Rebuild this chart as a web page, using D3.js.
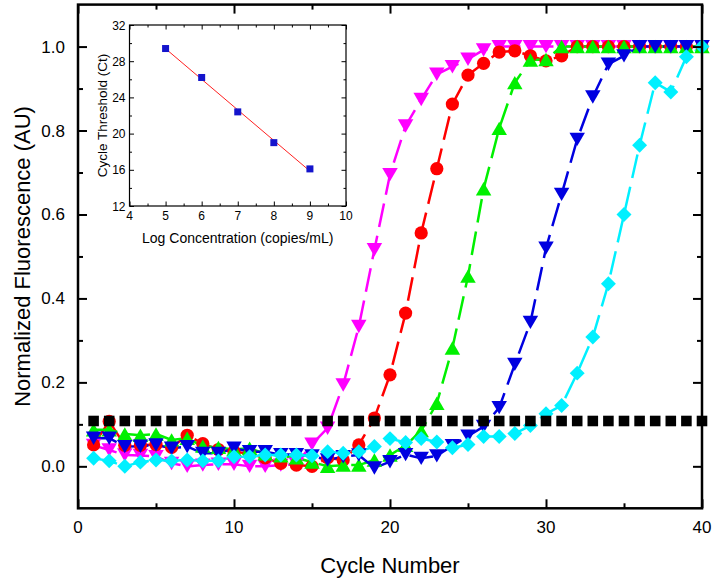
<!DOCTYPE html>
<html>
<head>
<meta charset="utf-8">
<script src="https://cdn.jsdelivr.net/npm/d3@7"></script>
<style>
  body { margin: 0; background: #fff; }
  svg { font-family: "Liberation Sans", Arial, sans-serif; }
</style>
</head>
<body>
<svg id="chart"></svg>
<script>
// cycle numbers 1..40
const cycles = [1,2,3,4,5,6,7,8,9,10,11,12,13,14,15,16,17,18,19,20,
  21,22,23,24,25,26,27,28,29,30,31,32,33,34,35,36,37,38,39,40]

const threshold = [0.108,0.108,0.108,0.108,0.108,0.108,0.108,0.108,0.108,0.108,
  0.108,0.108,0.108,0.108,0.108,0.108,0.108,0.108,0.108,0.108,
  0.108,0.108,0.108,0.108,0.108,0.108,0.108,0.108,0.108,0.108,
  0.108,0.108,0.108,0.108,0.108,0.108,0.108,0.108,0.108,0.108]

const magenta = [0.050,0.039,0.027,0.026,0.023,0.007,0.000,0.003,0.005,0.005,
  0.000,0.000,0.003,0.005,0.053,0.091,0.194,0.333,0.516,0.695,
  0.811,0.874,0.934,0.952,0.970,0.992,1.000,1.000,1.000,1.000,
  1.000,1.000,1.000,1.000,1.000,1.000,1.000,1.000,1.000,1.000]

const red = [0.051,0.107,0.050,0.050,0.052,0.045,0.074,0.054,0.040,0.035,
  0.030,0.020,0.007,0.003,0.000,0.020,0.015,0.051,0.115,0.218,
  0.365,0.556,0.709,0.863,0.932,0.960,0.987,0.990,0.978,0.966,
  0.978,1.000,1.000,1.000,1.000,1.000,1.000,1.000,1.000,1.000]

const green = [0.087,0.087,0.077,0.074,0.077,0.063,0.067,0.048,0.045,0.040,
  0.043,0.030,0.025,0.020,0.010,0.000,0.003,0.003,0.015,0.027,
  0.050,0.085,0.150,0.282,0.453,0.661,0.805,0.914,0.968,0.969,
  1.000,1.000,1.000,1.000,1.000,1.000,1.000,1.000,1.000,1.000]

const blue = [0.067,0.067,0.047,0.048,0.051,0.043,0.047,0.031,0.031,0.043,
  0.035,0.035,0.028,0.028,0.025,0.015,0.023,0.027,-0.004,0.011,
  0.028,0.019,0.025,0.049,0.072,0.095,0.140,0.243,0.343,0.520,
  0.648,0.779,0.880,0.958,0.978,1.000,1.000,1.000,1.000,1.000]

const cyan = [0.019,0.013,0.000,0.010,0.015,0.013,0.015,0.013,0.013,0.023,
  0.023,0.027,0.027,0.027,0.025,0.035,0.031,0.035,0.047,0.066,
  0.057,0.066,0.058,0.044,0.052,0.071,0.071,0.078,0.097,0.125,
  0.145,0.222,0.308,0.435,0.600,0.765,0.914,0.892,0.976,1.000]

// inset: standard curve
const logConc = [5, 6, 7, 8, 9]
const ctValues = [29.4, 26.2, 22.4, 19.0, 16.1]

const series = [
  {name: 'magenta', values: magenta, color: '#ff00ff', shape: 'down'},
  {name: 'red', values: red, color: '#ff0000', shape: 'circle'},
  {name: 'green', values: green, color: '#00f000', shape: 'up'},
  {name: 'blue', values: blue, color: '#0000e0', shape: 'down'},
  {name: 'cyan', values: cyan, color: '#00f0ff', shape: 'diamond'}
]

const width = 717, height = 583
const margin = {left: 78, right: 15, top: 4.6, bottom: 74.7}

const svg = d3.select('#chart')
  .attr('width', width)
  .attr('height', height)

const x = d3.scaleLinear().domain([0, 40]).range([margin.left, width - margin.right])
const y = d3.scaleLinear().domain([-0.1, 1.1]).range([height - margin.bottom, margin.top])

// ---- series lines + markers
const line = d3.line()
  .x((d, i) => x(cycles[i]))
  .y(d => y(d))

const markerGen = {
  circle: d3.symbol().type(d3.symbolCircle).size(138)(),
  up: d3.symbol().type(d3.symbolTriangle).size(104)(),
  down: d3.symbol().type(d3.symbolTriangle).size(104)(),
  diamond: d3.symbol().type(d3.symbolSquare).size(112)()
}
const markerTransform = (shape, px, py) => {
  if (shape === 'up') return `translate(${px},${py + 2.2})`
  if (shape === 'down') return `translate(${px},${py - 2.2}) rotate(180)`
  if (shape === 'diamond') return `translate(${px},${py}) rotate(45)`
  return `translate(${px},${py})`
}

const plot = svg.append('g')

series.forEach(s => {
  plot.append('path')
    .datum(s.values)
    .attr('fill', 'none')
    .attr('stroke', s.color)
    .attr('stroke-width', 2.5)
    .attr('stroke-dasharray', '24,9')
    .attr('d', line)
})

series.forEach(s => {
  plot.append('g')
    .selectAll('path')
    .data(s.values)
    .enter().append('path')
    .attr('d', markerGen[s.shape])
    .attr('fill', s.color)
    .attr('transform', (d, i) => markerTransform(s.shape, x(cycles[i]), y(d)))
})

plot.append('g')
  .selectAll('path')
  .data(threshold)
  .enter().append('path')
  .attr('d', d3.symbol().type(d3.symbolSquare).size(112)())
  .attr('fill', '#000')
  .attr('transform', (d, i) => `translate(${x(cycles[i])},${y(d)})`)

// ---- main axes (ticks inward on all four sides)
const xMajor = [0, 10, 20, 30, 40], xMinor = [5, 15, 25, 35]
const yMajor = [0, 0.2, 0.4, 0.6, 0.8, 1.0], yMinor = [0.1, 0.3, 0.5, 0.7, 0.9]
const frameStyle = g => {
  g.selectAll('.domain').remove()
  g.selectAll('line').attr('stroke', '#000').attr('stroke-width', 2)
}

svg.append('g')
  .attr('transform', `translate(0,${y(-0.1)})`)
  .call(g => {
    g.append('g').call(d3.axisTop(x).tickValues(xMinor).tickSize(5).tickFormat(''))
    g.append('g').call(d3.axisTop(x).tickValues(xMajor).tickSize(9).tickFormat(''))
  })
  .call(frameStyle)
svg.append('g')
  .attr('transform', `translate(0,${y(1.1)})`)
  .call(g => {
    g.append('g').call(d3.axisBottom(x).tickValues(xMinor).tickSize(5).tickFormat(''))
    g.append('g').call(d3.axisBottom(x).tickValues(xMajor).tickSize(9).tickFormat(''))
  })
  .call(frameStyle)
svg.append('g')
  .attr('transform', `translate(${x(0)},0)`)
  .call(g => {
    g.append('g').call(d3.axisRight(y).tickValues(yMinor).tickSize(5).tickFormat(''))
    g.append('g').call(d3.axisRight(y).tickValues(yMajor).tickSize(9).tickFormat(''))
  })
  .call(frameStyle)
svg.append('g')
  .attr('transform', `translate(${x(40)},0)`)
  .call(g => {
    g.append('g').call(d3.axisLeft(y).tickValues(yMinor).tickSize(5).tickFormat(''))
    g.append('g').call(d3.axisLeft(y).tickValues(yMajor).tickSize(9).tickFormat(''))
  })
  .call(frameStyle)

svg.append('rect')
  .attr('x', x(0)).attr('y', y(1.1))
  .attr('width', x(40) - x(0)).attr('height', y(-0.1) - y(1.1))
  .attr('fill', 'none').attr('stroke', '#000').attr('stroke-width', 2.5)

// tick labels
svg.append('g').selectAll('text')
  .data(xMajor).enter().append('text')
  .attr('x', d => x(d)).attr('y', y(-0.1) + 25)
  .attr('text-anchor', 'middle')
  .attr('font-size', 17)
  .text(d => d)
svg.append('g').selectAll('text')
  .data(yMajor).enter().append('text')
  .attr('x', x(0) - 13).attr('y', d => y(d) + 6)
  .attr('text-anchor', 'end')
  .attr('font-size', 17)
  .text(d => d3.format('.1f')(d))

svg.append('text')
  .attr('x', (x(0) + x(40)) / 2).attr('y', 573)
  .attr('text-anchor', 'middle')
  .attr('font-size', 22)
  .text('Cycle Number')
svg.append('text')
  .attr('transform', `translate(30,${(y(-0.1) + y(1.1)) / 2}) rotate(-90)`)
  .attr('text-anchor', 'middle')
  .attr('font-size', 22)
  .text('Normalized Fluorescence (AU)')

// ---- inset
const ix = d3.scaleLinear().domain([4, 10]).range([129.5, 346])
const iy = d3.scaleLinear().domain([12, 32]).range([206, 25])
const inset = svg.append('g')

inset.append('rect')
  .attr('x', ix(4)).attr('y', iy(32))
  .attr('width', ix(10) - ix(4)).attr('height', iy(12) - iy(32))
  .attr('fill', '#fff')

const ixMajor = [4, 5, 6, 7, 8, 9, 10], ixMinor = [4.5, 5.5, 6.5, 7.5, 8.5, 9.5]
const iyMajor = [12, 16, 20, 24, 28, 32], iyMinor = [14, 18, 22, 26, 30]
const insetStyle = g => {
  g.selectAll('.domain').remove()
  g.selectAll('line').attr('stroke', '#000').attr('stroke-width', 1)
}
inset.append('g').attr('transform', `translate(0,${iy(12)})`)
  .call(g => {
    g.append('g').call(d3.axisTop(ix).tickValues(ixMinor).tickSize(2.5).tickFormat(''))
    g.append('g').call(d3.axisTop(ix).tickValues(ixMajor).tickSize(4.5).tickFormat(''))
  }).call(insetStyle)
inset.append('g').attr('transform', `translate(0,${iy(32)})`)
  .call(g => {
    g.append('g').call(d3.axisBottom(ix).tickValues(ixMinor).tickSize(2.5).tickFormat(''))
    g.append('g').call(d3.axisBottom(ix).tickValues(ixMajor).tickSize(4.5).tickFormat(''))
  }).call(insetStyle)
inset.append('g').attr('transform', `translate(${ix(4)},0)`)
  .call(g => {
    g.append('g').call(d3.axisRight(iy).tickValues(iyMinor).tickSize(2.5).tickFormat(''))
    g.append('g').call(d3.axisRight(iy).tickValues(iyMajor).tickSize(4.5).tickFormat(''))
  }).call(insetStyle)
inset.append('g').attr('transform', `translate(${ix(10)},0)`)
  .call(g => {
    g.append('g').call(d3.axisLeft(iy).tickValues(iyMinor).tickSize(2.5).tickFormat(''))
    g.append('g').call(d3.axisLeft(iy).tickValues(iyMajor).tickSize(4.5).tickFormat(''))
  }).call(insetStyle)

inset.append('rect')
  .attr('x', ix(4)).attr('y', iy(32))
  .attr('width', ix(10) - ix(4)).attr('height', iy(12) - iy(32))
  .attr('fill', 'none').attr('stroke', '#000').attr('stroke-width', 1.2)

// linear fit of the standard curve
const mx = d3.mean(logConc), my = d3.mean(ctValues)
const slope = d3.sum(logConc, (v, i) => (v - mx) * (ctValues[i] - my)) /
  d3.sum(logConc, v => (v - mx) * (v - mx))
const fitY = v => my + slope * (v - mx)
inset.append('line')
  .attr('x1', ix(logConc[0])).attr('y1', iy(fitY(logConc[0])))
  .attr('x2', ix(logConc[4])).attr('y2', iy(fitY(logConc[4])))
  .attr('stroke', '#ff2020').attr('stroke-width', 1)

inset.append('g').selectAll('rect')
  .data(ctValues).enter().append('rect')
  .attr('x', (d, i) => ix(logConc[i]) - 3.5)
  .attr('y', d => iy(d) - 3.5)
  .attr('width', 7).attr('height', 7)
  .attr('fill', '#1414cc')

inset.append('g').selectAll('text')
  .data(ixMajor).enter().append('text')
  .attr('x', d => ix(d)).attr('y', iy(12) + 14)
  .attr('text-anchor', 'middle')
  .attr('font-size', 12)
  .text(d => d)
inset.append('g').selectAll('text')
  .data(iyMajor).enter().append('text')
  .attr('x', ix(4) - 4).attr('y', d => iy(d) + 4.5)
  .attr('text-anchor', 'end')
  .attr('font-size', 12)
  .text(d => d)

inset.append('text')
  .attr('x', (ix(4) + ix(10)) / 2).attr('y', 243)
  .attr('text-anchor', 'middle')
  .attr('font-size', 14)
  .text('Log Concentration (copies/mL)')
inset.append('text')
  .attr('transform', `translate(107,${(iy(12) + iy(32)) / 2}) rotate(-90)`)
  .attr('text-anchor', 'middle')
  .attr('font-size', 13.5)
  .text('Cycle Threshold (Ct)')
</script>
</body>
</html>
